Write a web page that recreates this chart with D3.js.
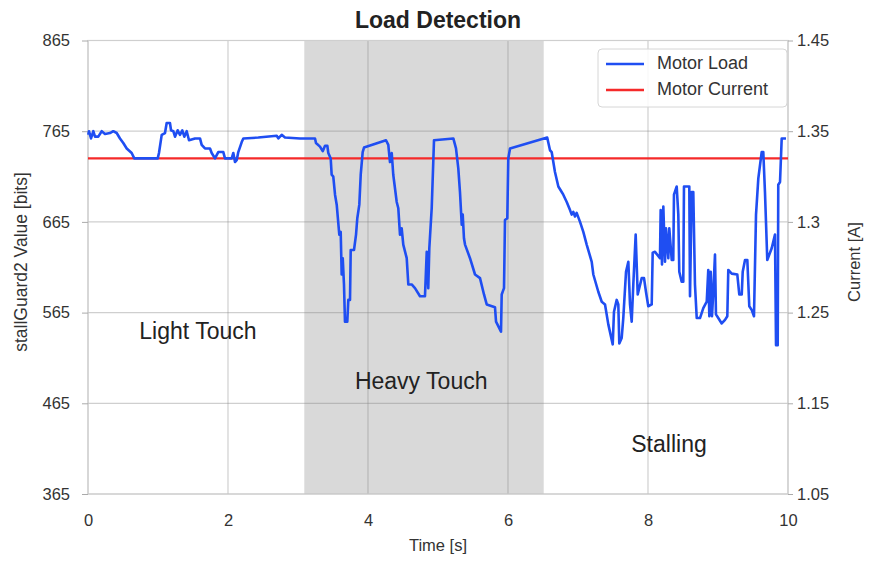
<!DOCTYPE html>
<html>
<head>
<meta charset="utf-8">
<script src="https://cdn.jsdelivr.net/npm/d3@7"></script>
<style>
  body { margin: 0; background: #fff; }
  text { font-family: "Liberation Sans", Arial, sans-serif; }
</style>
</head>
<body>
<div id="chart"></div>
<script>
// time [s] and stallGuard2 reading [bits] for the motor load trace
const loadTime = [
  0.004, 0.014, 0.043, 0.076, 0.1, 0.147, 0.196, 0.243, 0.314, 0.361, 0.41, 0.457, 0.504, 0.553, 0.624, 0.661,
  0.996, 1.014, 1.053, 1.1, 1.124, 1.171, 1.186, 1.219, 1.243, 1.281, 1.314, 1.347, 1.376, 1.41, 1.443, 1.529,
  1.6, 1.624, 1.671, 1.743, 1.767, 1.814, 1.861, 1.933, 1.957, 2.053, 2.076, 2.1, 2.124, 2.147, 2.196, 2.219,
  2.433, 2.696, 2.719, 2.767, 2.814, 3.029, 3.243, 3.257, 3.314, 3.353, 3.386, 3.419, 3.433, 3.467, 3.481, 3.504,
  3.529, 3.553, 3.59, 3.61, 3.624, 3.639, 3.657, 3.671, 3.704, 3.719, 3.743, 3.753, 3.8, 3.829, 3.847, 3.876,
  3.896, 3.924, 3.943, 4.257, 4.29, 4.314, 4.339, 4.361, 4.41, 4.433, 4.457, 4.481, 4.504, 4.553, 4.576, 4.624,
  4.671, 4.743, 4.814, 4.839, 4.861, 4.876, 4.91, 4.943, 5.219, 5.257, 5.29, 5.314, 5.339, 5.353, 5.371, 5.386,
  5.457, 5.529, 5.6, 5.657, 5.696, 5.814, 5.829, 5.9, 5.91, 5.943, 5.957, 5.99, 6.004, 6.029, 6.56, 6.6,
  6.624, 6.671, 6.719, 6.767, 6.79, 6.839, 6.886, 6.91, 6.933, 6.957, 6.981, 7.029, 7.076, 7.124, 7.196, 7.219,
  7.29, 7.339, 7.386, 7.433, 7.496, 7.514, 7.553, 7.576, 7.59, 7.624, 7.647, 7.686, 7.719, 7.743, 7.767, 7.79,
  7.824, 7.853, 7.91, 7.943, 7.971, 8.004, 8.053, 8.067, 8.1, 8.171, 8.181, 8.2, 8.219, 8.243, 8.257, 8.29,
  8.304, 8.339, 8.361, 8.371, 8.41, 8.433, 8.447, 8.481, 8.504, 8.514, 8.59, 8.6, 8.624, 8.647, 8.671, 8.696,
  8.743, 8.79, 8.839, 8.861, 8.876, 8.896, 8.914, 8.933, 8.957, 8.971, 9.004, 9.053, 9.1, 9.133, 9.147, 9.196,
  9.276, 9.304, 9.339, 9.353, 9.386, 9.419, 9.447, 9.481, 9.514, 9.543, 9.576, 9.624, 9.647, 9.671, 9.704, 9.767,
  9.814, 9.829, 9.853, 9.861, 9.886, 9.91, 9.971
];
const loadValue = [
  761, 765, 757, 765, 759, 759, 765, 762, 763, 765, 763, 757, 752, 746, 741, 735,
  735, 741, 761, 763, 774, 774, 766, 765, 759, 766, 761, 766, 759, 765, 755, 757,
  757, 750, 746, 746, 741, 735, 742, 742, 735, 735, 741, 731, 733, 742, 753, 757,
  758, 760, 757, 761, 758, 757, 757, 752, 748, 743, 749, 749, 741, 735, 717, 715,
  695, 684, 651, 654, 607, 625, 596, 555, 555, 579, 579, 634, 634, 651, 669, 684,
  717, 742, 747, 755, 750, 731, 741, 717, 687, 680, 651, 658, 640, 625, 596, 596,
  592, 583, 583, 632, 592, 636, 680, 755, 757, 746, 724, 698, 662, 673, 647, 640,
  625, 607, 603, 585, 574, 571, 555, 544, 585, 592, 667, 669, 735, 746, 758, 744,
  742, 720, 704, 698, 695, 687, 678, 673, 676, 671, 675, 665, 654, 640, 621, 607,
  588, 577, 574, 552, 530, 566, 579, 574, 531, 537, 559, 610, 621, 574, 555, 596,
  651, 585, 603, 603, 588, 572, 574, 631, 632, 625, 678, 618, 682, 621, 658, 625,
  658, 623, 623, 695, 704, 673, 610, 599, 599, 704, 704, 583, 698, 698, 596, 559,
  559, 570, 577, 612, 561, 610, 561, 588, 629, 563, 559, 553, 557, 561, 612, 608,
  607, 585, 585, 610, 623, 623, 572, 568, 561, 673, 713, 742, 742, 698, 623, 636,
  651, 529, 529, 706, 709, 757, 757
];

// motor current [A], flat over the run
const currentTime = [0, 10];
const currentValue = [1.335, 1.335];

// shaded "heavy touch" window [s]
const heavySpan = [3.09, 6.51];

const xTicks = [0, 2, 4, 6, 8, 10];
const leftTicks = [365, 465, 565, 665, 765, 865];
const rightTicks = [1.05, 1.15, 1.25, 1.3, 1.35, 1.45];

const notes = [
  { text: "Light Touch", t: 1.57, v: 543 },
  { text: "Heavy Touch", t: 4.76, v: 488 },
  { text: "Stalling", t: 8.3, v: 418 }
];

const width = 869;
const height = 563;
const margin = { top: 40.5, right: 81, bottom: 69, left: 88 };

const svg = d3.select("#chart")
  .append("svg")
  .attr("width", width)
  .attr("height", height);

const x = d3.scaleLinear()
  .domain([0, 10])
  .range([margin.left, width - margin.right]);

const y = d3.scaleLinear()
  .domain([365, 865])
  .range([height - margin.bottom, margin.top]);

// right axis labels sit on the left gridlines, so map them piecewise
const yR = d3.scaleLinear()
  .domain(rightTicks)
  .range(leftTicks.map(y));

// shaded band
svg.append("rect")
  .attr("x", x(heavySpan[0]))
  .attr("y", margin.top)
  .attr("width", x(heavySpan[1]) - x(heavySpan[0]))
  .attr("height", y(365) - margin.top)
  .attr("fill", "#d9d9d9");

// grid
const grid = svg.append("g")
  .attr("stroke", "#808080")
  .attr("stroke-opacity", 0.38)
  .attr("stroke-width", 1.2);

grid.selectAll(".gx")
  .data(xTicks)
  .join("line")
    .attr("x1", d => x(d))
    .attr("x2", d => x(d))
    .attr("y1", margin.top)
    .attr("y2", height - margin.bottom);

grid.selectAll(".gy")
  .data(leftTicks)
  .join("line")
    .attr("x1", margin.left)
    .attr("x2", width - margin.right)
    .attr("y1", d => y(d))
    .attr("y2", d => y(d));

// frame
svg.append("rect")
  .attr("x", margin.left)
  .attr("y", margin.top)
  .attr("width", width - margin.left - margin.right)
  .attr("height", height - margin.top - margin.bottom)
  .attr("fill", "none")
  .attr("stroke", "#cfcfcf")
  .attr("stroke-width", 1.2);

// axes
function styleAxis(g) {
  g.select(".domain").remove();
  g.selectAll(".tick line").attr("stroke", "#aaa");
  g.selectAll(".tick text")
    .attr("fill", "#333")
    .attr("font-size", "16.5px");
}

svg.append("g")
  .attr("transform", `translate(0,${height - margin.bottom})`)
  .call(d3.axisBottom(x).tickValues(xTicks).tickSize(0).tickPadding(20))
  .call(styleAxis);

svg.append("g")
  .attr("transform", `translate(${margin.left},0)`)
  .call(d3.axisLeft(y).tickValues(leftTicks).tickSize(6).tickPadding(12))
  .call(styleAxis);

svg.append("g")
  .attr("transform", `translate(${width - margin.right},0)`)
  .call(d3.axisRight(yR).tickValues(rightTicks).tickFormat(d => String(d)).tickSize(5).tickPadding(4))
  .call(styleAxis);

// motor current
const currentLine = d3.line()
  .x((d, i) => x(currentTime[i]))
  .y(d => yR(d));

svg.append("path")
  .datum(currentValue)
  .attr("d", currentLine)
  .attr("fill", "none")
  .attr("stroke", "#f52a2a")
  .attr("stroke-width", 2.2);

// motor load
const loadLine = d3.line()
  .x((d, i) => x(loadTime[i]))
  .y(d => y(d));

svg.append("path")
  .datum(loadValue)
  .attr("d", loadLine)
  .attr("fill", "none")
  .attr("stroke", "#1f4ef2")
  .attr("stroke-width", 2.6)
  .attr("stroke-linejoin", "round");

// annotations
svg.selectAll(".note")
  .data(notes)
  .join("text")
    .attr("x", d => x(d.t))
    .attr("y", d => y(d.v))
    .attr("text-anchor", "middle")
    .attr("dominant-baseline", "middle")
    .attr("font-family", "'Open Sans', sans-serif")
    .attr("font-size", "23px")
    .attr("fill", "#222")
    .text(d => d.text);

// titles
svg.append("text")
  .attr("x", (margin.left + width - margin.right) / 2)
  .attr("y", 28)
  .attr("text-anchor", "middle")
  .attr("font-size", "23px")
  .attr("font-weight", "bold")
  .attr("fill", "#222")
  .text("Load Detection");

svg.append("text")
  .attr("x", (margin.left + width - margin.right) / 2)
  .attr("y", 551)
  .attr("text-anchor", "middle")
  .attr("font-size", "16.5px")
  .attr("fill", "#333")
  .text("Time [s]");

svg.append("text")
  .attr("transform", `translate(27,262) rotate(-90)`)
  .attr("text-anchor", "middle")
  .attr("font-size", "17.5px")
  .attr("fill", "#333")
  .text("stallGuard2 Value [bits]");

svg.append("text")
  .attr("transform", `translate(860,262) rotate(-90)`)
  .attr("text-anchor", "middle")
  .attr("font-size", "16.5px")
  .attr("fill", "#333")
  .text("Current [A]");

// legend
const legend = svg.append("g").attr("transform", "translate(598,49)");
legend.append("rect")
  .attr("width", 189)
  .attr("height", 58)
  .attr("rx", 4)
  .attr("fill", "#fff")
  .attr("fill-opacity", 0.85)
  .attr("stroke", "#d6d6d6");

const legendItems = [
  { label: "Motor Load", color: "#1f4ef2" },
  { label: "Motor Current", color: "#f52a2a" }
];

legendItems.forEach((d, i) => {
  legend.append("line")
    .attr("x1", 8).attr("x2", 46)
    .attr("y1", 15 + i * 26).attr("y2", 15 + i * 26)
    .attr("stroke", d.color)
    .attr("stroke-width", 2.4);
  legend.append("text")
    .attr("x", 59)
    .attr("y", 15 + i * 26)
    .attr("dominant-baseline", "middle")
    .attr("font-size", "18px")
    .attr("fill", "#333")
    .text(d.label);
});
</script>
</body>
</html>
